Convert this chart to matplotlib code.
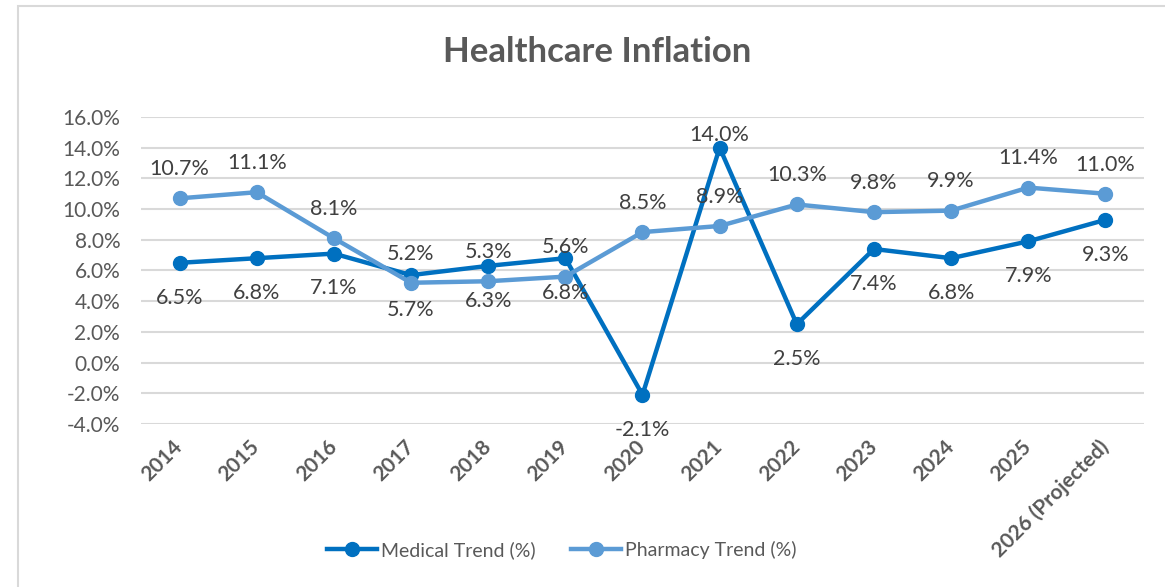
#libraries
import matplotlib
matplotlib.use('Agg')
import matplotlib.pyplot as plt
from matplotlib.patches import Rectangle
from matplotlib.ticker import FuncFormatter

# data
years = ['2014', '2015', '2016', '2017', '2018', '2019', '2020', '2021',
         '2022', '2023', '2024', '2025', '2026 (Projected)']
medical = [6.5, 6.8, 7.1, 5.7, 6.3, 6.8, -2.1, 14.0, 2.5, 7.4, 6.8, 7.9, 9.3]
pharmacy = [10.7, 11.1, 8.1, 5.2, 5.3, 5.6, 8.5, 8.9, 10.3, 9.8, 9.9, 11.4, 11.0]
y_ticks = [-4, -2, 0, 2, 4, 6, 8, 10, 12, 14, 16]

plt.rcParams['font.family'] = ['Lato', 'DejaVu Sans']

med_color = '#0070C0'
pha_color = '#5B9BD5'
text_gray = '#595959'
label_gray = '#404040'

fig = plt.figure(figsize=(11.65, 5.87), dpi=100)
ax = fig.add_axes([0.121, 0.2777, 0.861, 0.523])

x = list(range(len(years)))
ax.plot(x, medical, color=med_color, lw=3.2, marker='o', ms=10, label='Medical Trend (%)', zorder=3)
ax.plot(x, pharmacy, color=pha_color, lw=3.2, marker='o', ms=10, label='Pharmacy Trend (%)', zorder=3)

# data labels: pharmacy above, medical below (except the 2021 peak)
for i, v in enumerate(pharmacy):
    ax.annotate(f'{v:.1f}%', (i, v), xytext=(0, 21), textcoords='offset points',
                ha='center', va='center', fontsize=15.5, color=label_gray)
for i, v in enumerate(medical):
    dy = 9 if v == max(medical) else -25
    ax.annotate(f'{v:.1f}%', (i, v), xytext=(0, dy), textcoords='offset points',
                ha='center', va='center', fontsize=15.5, color=label_gray)

ax.set_xlim(-0.5, len(years) - 0.5)
ax.set_ylim(-4, 16)
ax.set_yticks(y_ticks)
ax.yaxis.set_major_formatter(FuncFormatter(lambda v, p: f'{v:.1f}%'))
ax.grid(axis='y', color='#D9D9D9', lw=1.5)
ax.set_axisbelow(True)
for s in ax.spines.values():
    s.set_visible(False)
ax.tick_params(axis='both', length=0, colors=text_gray, labelsize=15)
ax.tick_params(axis='y', pad=15)

ax.set_xticks(x)
ax.set_xticklabels(years, rotation=45, ha='right', va='center', rotation_mode='anchor',
                   fontweight='bold', fontsize=15, color=text_gray)
ax.tick_params(axis='x', pad=14)

fig.text(0.513, 0.912, 'Healthcare Inflation', ha='center', va='center',
         fontsize=25, fontweight='bold', color=text_gray)

leg = fig.legend(loc='center', bbox_to_anchor=(0.482, 0.063), ncol=2, frameon=False,
                 fontsize=14, handlelength=2.6, handletextpad=0.2, columnspacing=1.8)
for t in leg.get_texts():
    t.set_color(text_gray)

# chart frame
fig.add_artist(Rectangle((18 / 1165, -0.1), 1.2, 1.1 - 6 / 587, transform=fig.transFigure,
                         fill=False, ec='#D9D9D9', lw=1.5, clip_on=False))

fig.savefig('out.png', dpi=100)
